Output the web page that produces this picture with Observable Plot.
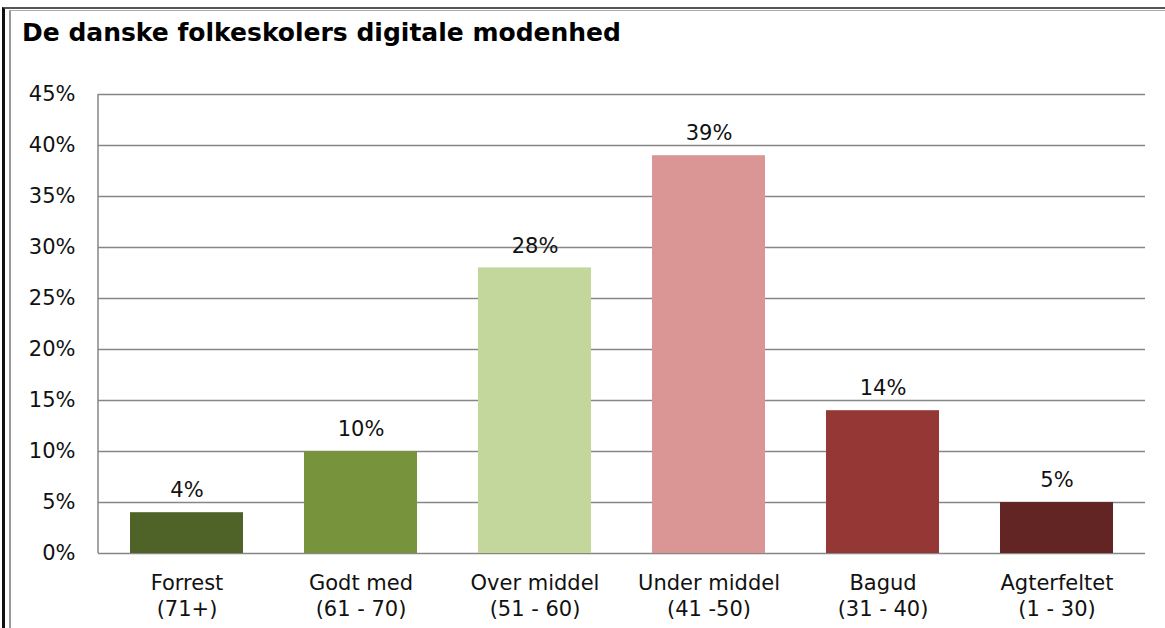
<!DOCTYPE html>
<html>
<head>
<meta charset="utf-8">
<script src="https://cdn.jsdelivr.net/npm/d3@7"></script>
<script src="https://cdn.jsdelivr.net/npm/@observablehq/plot@0.6"></script>
<style>
  html, body { margin: 0; padding: 0; background: #fff; width: 1165px; height: 628px; overflow: hidden; }
  #frame1 { position: absolute; left: 2px; top: 7px; width: 1200px; height: 700px; border-left: 3px solid #111; border-top: 2px solid #555; }
  #frame2 { position: absolute; left: 9px; top: 10px; width: 1200px; height: 700px; border-left: 2px solid #999; border-top: 1px solid #aaa; }
  #title { position: absolute; left: 22px; top: 18px; font: bold 25px "DejaVu Sans", Verdana, sans-serif; color: #000; white-space: nowrap; }
  #chart { position: absolute; left: 0; top: 50px; }
</style>
</head>
<body>
<div id="frame1"></div>
<div id="frame2"></div>
<div id="title">De danske folkeskolers digitale modenhed</div>
<div id="chart"></div>
<script>
const categories = ["Forrest", "Godt med", "Over middel", "Under middel", "Bagud", "Agterfeltet"];
const ranges = ["(71+)", "(61 - 70)", "(51 - 60)", "(41 -50)", "(31 - 40)", "(1 - 30)"];
const values = [0.04, 0.10, 0.28, 0.39, 0.14, 0.05];
const colors = ["#4F6228", "#77933C", "#C3D69B", "#D99694", "#953735", "#632523"];
const yTicks = [0, 0.05, 0.10, 0.15, 0.20, 0.25, 0.30, 0.35, 0.40, 0.45];

const data = categories.map((c, i) => ({cat: c, range: ranges[i], value: values[i], color: colors[i]}));
const labelOf = Object.fromEntries(categories.map((c, i) => [c, c + "\n" + ranges[i]]));

const font = '"DejaVu Sans", Verdana, sans-serif';

const chart = Plot.plot({
  width: 1165,
  height: 578,
  marginTop: 44,
  marginBottom: 75,
  marginLeft: 98,
  marginRight: 20,
  style: {fontFamily: font, fontSize: "21px", color: "#000", background: "transparent"},
  x: {domain: categories, paddingInner: 0.352, paddingOuter: 0.176, label: null},
  y: {domain: [0, 0.45], label: null},
  marks: [
    Plot.ruleY(yTicks, {stroke: "#868686", strokeWidth: 1.5}),
    Plot.barY(data, {x: "cat", y: "value", fill: "color"}),
    Plot.text(data, {x: "cat", y: "value", text: d => Math.round(d.value * 100) + "%", dy: -22, fontSize: 21, fill: "#111"}),
    Plot.axisY({ticks: yTicks, tickFormat: d => Math.round(d * 100) + "%", tickSize: 0, tickPadding: 23, fontSize: 21, fill: "#111"}),
    Plot.axisX({tickSize: 0, tickPadding: 19, tickFormat: d => labelOf[d], lineHeight: 1.2, fontSize: 21, fill: "#111"})
  ]
});
// vertical axis line along the left edge of the plot frame
const svg = d3.select(chart);
svg.append("line")
  .attr("x1", 98).attr("x2", 98)
  .attr("y1", 44).attr("y2", 578 - 75)
  .attr("stroke", "#868686").attr("stroke-width", 1.5);
document.getElementById("chart").appendChild(chart);
</script>
</body>
</html>
